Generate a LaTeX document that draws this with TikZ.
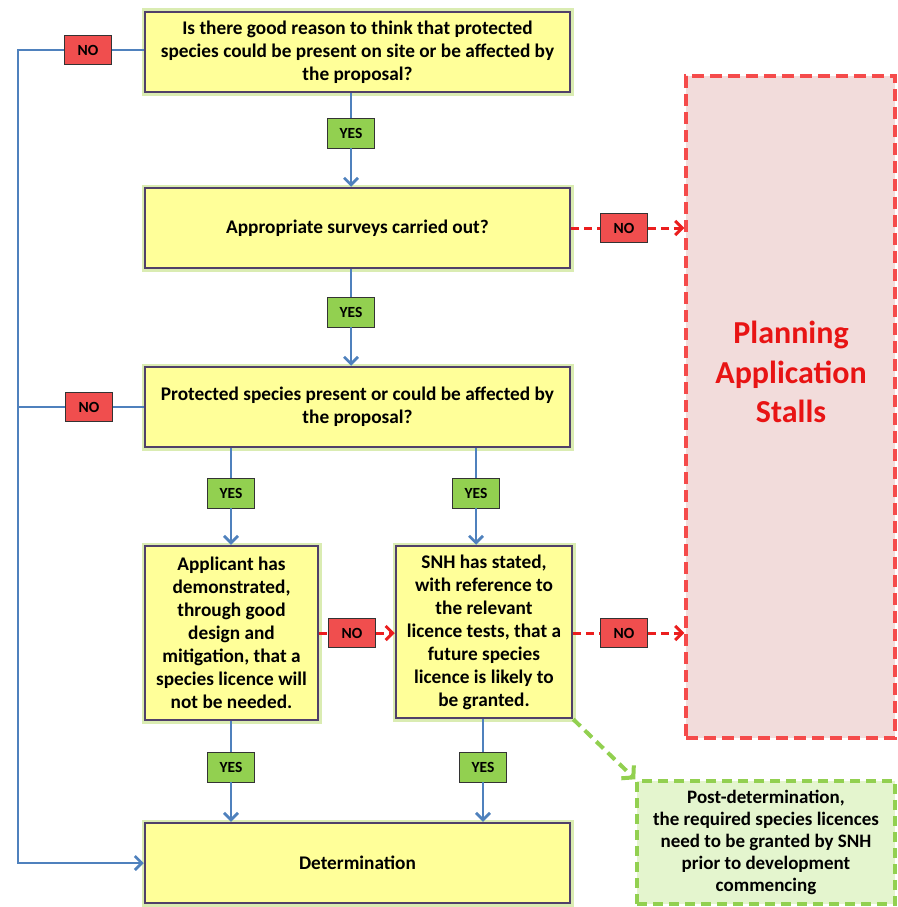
\documentclass[tikz,border=0pt]{standalone}
\usepackage{fontspec}
\setmainfont{Carlito}
\usetikzlibrary{arrows.meta}
\definecolor{boxfill}{RGB}{255,255,153}
\definecolor{boxedge}{RGB}{80,64,105}
\definecolor{glow}{RGB}{218,236,178}
\definecolor{flow}{RGB}{79,129,189}
\definecolor{yesfill}{RGB}{146,208,80}
\definecolor{nofill}{RGB}{240,78,78}
\definecolor{redline}{RGB}{235,30,30}
\definecolor{stallfill}{RGB}{242,220,219}
\definecolor{stalledge}{RGB}{245,75,75}
\definecolor{greenedge}{RGB}{146,208,80}
\definecolor{greenfill}{RGB}{228,245,206}
\definecolor{stalltext}{RGB}{232,20,20}
\begin{document}
\begin{tikzpicture}[x=1pt,y=-1pt,
  qbox/.style={draw=boxedge, line width=2.5pt, fill=boxfill, align=center, inner sep=0pt,
    preaction={draw=glow, line width=7pt},
    font=\bfseries\fontsize{19.3}{23}\selectfont},
  yes/.style={draw=black!80, line width=0.9pt, fill=yesfill, minimum width=47pt, minimum height=30pt, inner sep=0pt,
    font=\bfseries\fontsize{15.5}{15.5}\selectfont},
  no/.style={draw=black!80, line width=0.9pt, fill=nofill, minimum width=47pt, minimum height=29pt, inner sep=0pt,
    font=\bfseries\fontsize{15.5}{15.5}\selectfont},
  bl/.style={draw=flow, line width=2.7pt},
  blarr/.style={bl, -{Straight Barb[length=7pt,width=14pt,line width=2.7pt]}},
  rd/.style={draw=redline, line width=3pt, dash pattern=on 8pt off 5pt},
  rdarr/.style={rd, -{Straight Barb[length=7pt,width=14pt,line width=3pt]}},
  gnarr/.style={draw=greenedge, line width=4pt, dash pattern=on 10pt off 6pt, -{Straight Barb[length=8pt,width=18pt,line width=4pt]}}
]
\useasboundingbox (0,0) rectangle (897,907);

% question boxes
\node[qbox, minimum width=425pt, minimum height=80pt] (b1) at (357.5,52)
  {Is there good reason to think that protected\\species could be present on site or be affected by\\the proposal?};
\node[qbox, minimum width=425pt, minimum height=80pt] (b2) at (357.5,228)
  {Appropriate surveys carried out?};
\node[qbox, minimum width=425pt, minimum height=80pt] (b3) at (357.5,407)
  {Protected species present or could be affected by\\the proposal?};
\node[qbox, minimum width=173pt, minimum height=174pt] (b4) at (231.5,633)
  {Applicant has\\demonstrated,\\through good\\design and\\mitigation, that a\\species licence will\\not be needed.};
\node[qbox, minimum width=176pt, minimum height=172pt] (b5) at (484,632)
  {SNH has stated,\\with reference to\\the relevant\\licence tests, that a\\future species\\licence is likely to\\be granted.};
\node[qbox, minimum width=425pt, minimum height=80pt] (b6) at (357.5,863)
  {Determination};

% outcome boxes
\node[draw=stalledge, line width=3.5pt, dash pattern=on 12pt off 6pt, fill=stallfill,
  minimum width=209pt, minimum height=662pt, inner sep=0pt] (st) at (790.5,407) {};
\node[align=center, text=stalltext, font=\bfseries\fontsize{32}{39.5}\selectfont] (stt) at (791,372)
  {Planning\\Application\\Stalls};
\node[draw=greenedge, line width=3.5pt, dash pattern=on 10pt off 6pt, fill=greenfill,
  minimum width=258pt, minimum height=123pt, inner sep=0pt, align=center,
  font=\bfseries\fontsize{19}{22}\selectfont] (pd) at (766,842.5)
  {Post-determination,\\the required species licences\\need to be granted by SNH\\prior to development\\commencing};

% labels
\node[no] (n1) at (88,50) {NO};
\node[yes] (y1) at (351,133) {YES};
\node[no] (n2) at (624,228) {NO};
\node[yes] (y2) at (351,312) {YES};
\node[no] (n3) at (89,407) {NO};
\node[yes] (y3) at (231,493) {YES};
\node[yes] (y4) at (476,493) {YES};
\node[no] (n4) at (352,633) {NO};
\node[no] (n5) at (624,633) {NO};
\node[yes] (y5) at (231,767) {YES};
\node[yes] (y6) at (483,767) {YES};

\coordinate (c1) at (18,50);
\coordinate (c2) at (18,863);
\coordinate (c3) at (18,407);

% blue flow
\draw[bl] (b1.west |- n1) -- (n1.east);
\draw[blarr] (n1.west) -- (c1) -- (c2) -- (b6.west);
\draw[bl] (b3.west) -- (n3.east);
\draw[bl] (n3.west) -- (c3);
\draw[bl] (y1 |- b1.south) -- (y1.north);
\draw[blarr] (y1.south) -- (y1 |- b2.north);
\draw[bl] (y2 |- b2.south) -- (y2.north);
\draw[blarr] (y2.south) -- (y2 |- b3.north);
\draw[bl] (y3 |- b3.south) -- (y3.north);
\draw[blarr] (y3.south) -- (y3 |- b4.north);
\draw[bl] (y4 |- b3.south) -- (y4.north);
\draw[blarr] (y4.south) -- (y4 |- b5.north);
\draw[bl] (y5 |- b4.south) -- (y5.north);
\draw[blarr] (y5.south) -- (y5 |- b6.north);
\draw[bl] (y6 |- b5.south) -- (y6.north);
\draw[blarr] (y6.south) -- (y6 |- b6.north);

% red dashed
\draw[rd] (b2.east) -- (n2.west);
\draw[rdarr] (n2.east) -- (n2 -| st.west);
\draw[rd] (b4.east |- n4) -- (n4.west);
\draw[rdarr] (n4.east) -- (n4 -| b5.west);
\draw[rd] (b5.east |- n5) -- (n5.west);
\draw[rdarr] (n5.east) -- (n5 -| st.west);

% green dashed
\draw[gnarr] (b5.south east) -- (pd.north west);
\end{tikzpicture}
\end{document}
